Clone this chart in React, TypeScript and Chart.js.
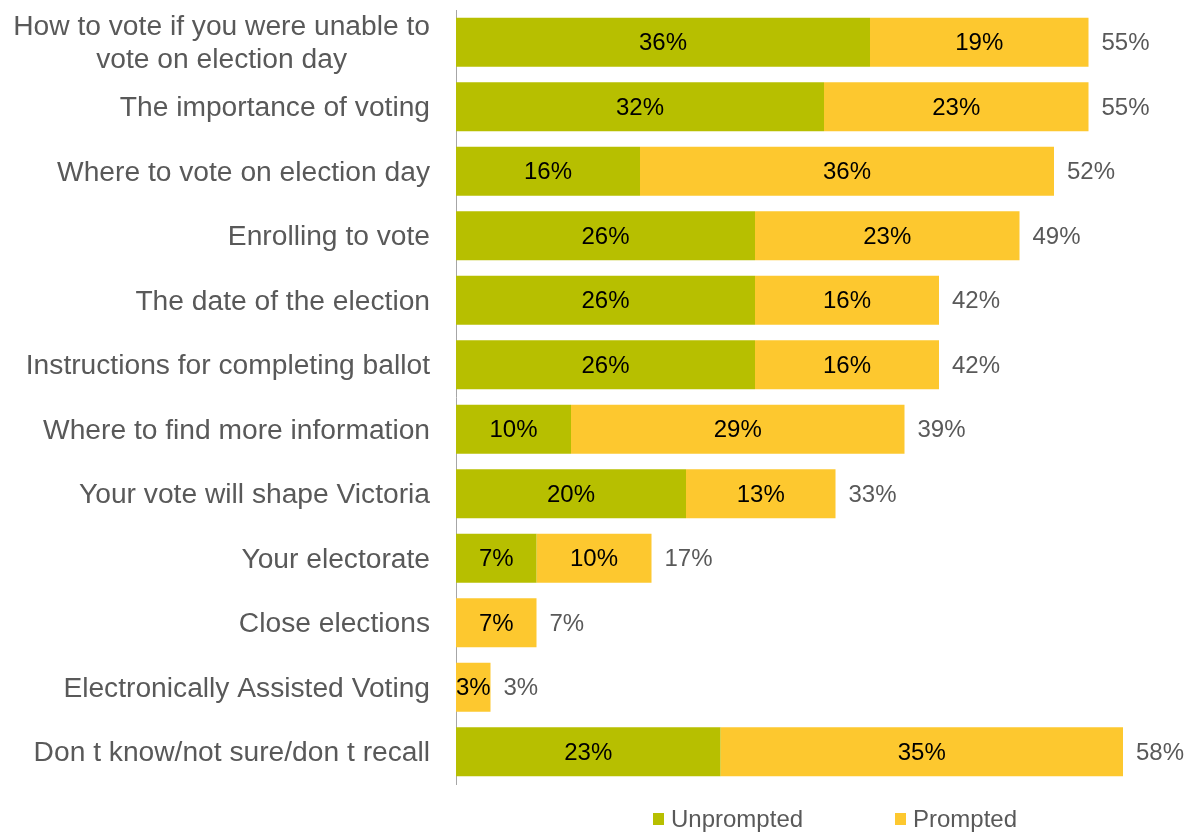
import React, { useEffect, useRef } from "react";
import { Chart, registerables } from "chart.js";

Chart.register(...registerables);

const categories: (string | string[])[] = [
  ["How to vote if you were unable to", "vote on election day"],
  "The importance of voting",
  "Where to vote on election day",
  "Enrolling to vote",
  "The date of the election",
  "Instructions for completing ballot",
  "Where to find more information",
  "Your vote will shape Victoria",
  "Your electorate",
  "Close elections",
  "Electronically Assisted Voting",
  "Don t know/not sure/don t recall",
];
const unprompted = [36, 32, 16, 26, 26, 26, 10, 20, 7, 0, 0, 23];
const prompted = [19, 23, 36, 23, 16, 16, 29, 13, 10, 7, 3, 35];
const totals = [55, 55, 52, 49, 42, 42, 39, 33, 17, 7, 3, 58];
const seriesNames = ["Unprompted", "Prompted"];

const GREEN = "#B7BF00";
const YELLOW = "#FDC82F";
const GRAY = "#595959";
const FONT = "'Liberation Sans', Arial, sans-serif";

const labelsPlugin = {
  id: "customLabels",
  afterDraw(chart: any) {
    const ctx = chart.ctx;
    const xs = chart.scales.x;
    const ys = chart.scales.y;
    const area = chart.chartArea;
    ctx.save();
    // category labels
    ctx.fillStyle = GRAY;
    ctx.font = `28.2px ${FONT}`;
    ctx.textBaseline = "middle";
    const rightEdge = area.left - 26;
    categories.forEach((cat, i) => {
      const y = ys.getPixelForValue(i) + 1.5;
      const lines = Array.isArray(cat) ? cat : [cat];
      const widths = lines.map((l) => ctx.measureText(l).width);
      const maxW = Math.max(...widths);
      const center = rightEdge - maxW / 2;
      const lh = 33;
      lines.forEach((l, k) => {
        const ly = y + (k - (lines.length - 1) / 2) * lh;
        ctx.textAlign = "center";
        ctx.fillText(l, center, ly);
      });
    });
    // segment labels
    ctx.font = `24px ${FONT}`;
    ctx.textAlign = "center";
    ctx.fillStyle = "#000000";
    categories.forEach((_, i) => {
      const y = ys.getPixelForValue(i) + 1.5;
      const u = unprompted[i];
      const p = prompted[i];
      if (u > 0) {
        const x0 = xs.getPixelForValue(0);
        const x1 = xs.getPixelForValue(u);
        ctx.fillText(u + "%", (x0 + x1) / 2, y);
      }
      if (p > 0) {
        const x0 = xs.getPixelForValue(u);
        const x1 = xs.getPixelForValue(u + p);
        ctx.fillText(p + "%", (x0 + x1) / 2, y);
      }
    });
    // totals
    ctx.fillStyle = GRAY;
    ctx.textAlign = "left";
    totals.forEach((t, i) => {
      const y = ys.getPixelForValue(i) + 1.5;
      const x = xs.getPixelForValue(unprompted[i] + prompted[i]);
      ctx.fillText(t + "%", x + 13, y);
    });
    // legend
    const legendY = 819;
    const items = [
      { name: seriesNames[0], color: GREEN, x: 653 },
      { name: seriesNames[1], color: YELLOW, x: 895 },
    ];
    items.forEach((it) => {
      ctx.fillStyle = it.color;
      ctx.fillRect(it.x, legendY - 6, 11, 12);
      ctx.fillStyle = GRAY;
      ctx.textAlign = "left";
      ctx.fillText(it.name, it.x + 18, legendY + 1);
    });
    ctx.restore();
  },
};

export default function App() {
  const ref = useRef<HTMLCanvasElement | null>(null);
  useEffect(() => {
    if (!ref.current) return;
    const chart = new Chart(ref.current, {
      type: "bar",
      data: {
        labels: categories.map((c) => (Array.isArray(c) ? c.join(" ") : c)),
        datasets: [
          {
            label: seriesNames[0],
            data: unprompted,
            backgroundColor: GREEN,
            barPercentage: 0.76,
            categoryPercentage: 1,
          },
          {
            label: seriesNames[1],
            data: prompted,
            backgroundColor: YELLOW,
            barPercentage: 0.76,
            categoryPercentage: 1,
          },
        ],
      },
      options: {
        indexAxis: "y",
        animation: false,
        responsive: true,
        maintainAspectRatio: false,
        layout: { padding: { top: 10, bottom: 48, right: 44, left: 0 } },
        plugins: {
          legend: { display: false },
          tooltip: { enabled: false },
        },
        scales: {
          x: {
            stacked: true,
            display: false,
            min: 0,
            max: 60,
          },
          y: {
            stacked: true,
            grid: { display: false, drawTicks: false },
            border: { display: true, color: "#A6A6A6", width: 1 },
            ticks: { display: false },
            afterFit: (s: any) => {
              s.width = 456;
            },
          },
        },
      } as any,
      plugins: [labelsPlugin],
    });
    return () => chart.destroy();
  }, []);
  return (
    <div style={{ position: "absolute", left: 0, top: 0, width: 1190, height: 832 }}>
      <canvas ref={ref} />
    </div>
  );
}
